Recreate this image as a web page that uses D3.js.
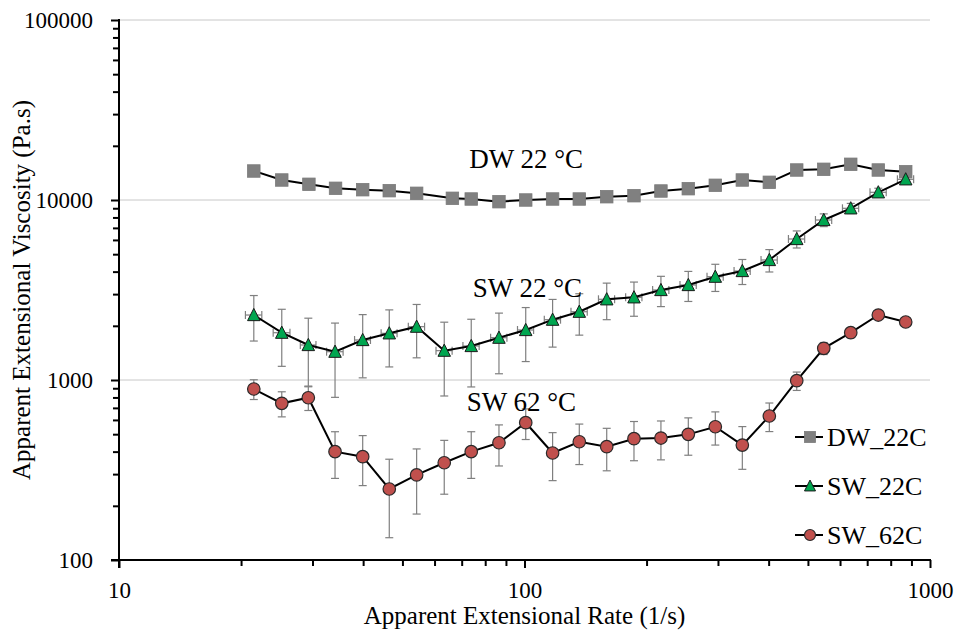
<!DOCTYPE html>
<html>
<head>
<meta charset="utf-8">
<script src="https://cdn.jsdelivr.net/npm/d3@7/dist/d3.min.js"></script>
<style>
  html, body { margin: 0; padding: 0; background: #fff; }
  svg text { font-family: "Liberation Serif", "DejaVu Serif", serif; fill: #000; }
</style>
</head>
<body>
<svg id="chart" width="956" height="632"></svg>
<script>
// apparent extensional rate (1/s)
const rateDW = [21.5, 25.2, 29.4, 34.2, 39.9, 46.4, 54.2, 66.4, 73.9, 86.5, 100.7, 117.3, 136.5,
  159.5, 186.2, 217.0, 253.5, 295.5, 344.5, 401.6, 469.2, 547.0, 637.6, 745.6, 871.2];
const rateSW = [21.5, 25.2, 29.3, 34.1, 39.9, 46.4, 54.2, 63.4, 73.9, 86.5, 100.7, 117.3, 136.5,
  159.5, 186.2, 217.0, 253.5, 295.5, 344.5, 401.6, 469.2, 547.0, 637.6, 745.6, 871.2];
const rateErrSW = [1.0, 1.2, 1.3, 1.6, 1.8, 2.1, 2.5, 2.9, 3.4, 4.0, 4.6, 5.4, 6.3,
  7.3, 8.6, 10.0, 11.7, 13.6, 15.8, 18.5, 21.6, 25.2, 29.3, 34.3, 40.1];

// apparent extensional viscosity (Pa.s)
const viscDW22 = [14490, 12915, 12225, 11614, 11408, 11265, 10894, 10219, 10128, 9786, 10000, 10128, 10128,
  10430, 10565, 11220, 11556, 12070, 12915, 12540, 14678, 14810, 15790, 14678, 14360];
const viscSW22 = [2296, 1831, 1565, 1436, 1668, 1817, 1978, 1455, 1545, 1718, 1896, 2163, 2395,
  2808, 2880, 3162, 3371, 3749, 4032, 4642, 6072, 7743, 8993, 11035, 13032];
const errSW22 = [650, 640, 640, 635, 640, 635, 650, 640, 630, 635, 630, 640, 620,
  645, 620, 605, 640, 645, 640, 660, 660, 630, 580, 590, 690];
const viscSW62 = [891, 742, 797, 400, 375, 248, 297, 347, 400, 448, 579, 393, 454,
  426, 472, 476, 499, 550, 435, 631, 991, 1500, 1831, 2296, 2100];
const errSW62 = [112, 118, 120, 116, 116, 115, 117, 115, 116, 115, 112, 117, 115,
  113, 116, 116, 117, 115, 116, 114, 116, 115, 115, 115, 115];

const xTicks = [10, 100, 1000];
const yTicks = [100, 1000, 10000, 100000];

const seriesNames = ['DW_22C', 'SW_22C', 'SW_62C'];
// text labels in the plot, anchored at data coordinates (rate, viscosity)
const notes = [
  { text: 'DW 22 °C', x: 73.1, y: 15000 },
  { text: 'SW 22 °C', x: 74.5, y: 2890 },
  { text: 'SW 62 °C', x: 72.0, y: 675 },
];

const width = 956, height = 632;
const margin = { top: 20, right: 26, bottom: 72, left: 119 };
const serif = '"Liberation Serif", "DejaVu Serif", serif';

const svg = d3.select('#chart').attr('font-family', serif);

const x = d3.scaleLog().domain([10, 1000]).range([margin.left, width - margin.right]);
const y = d3.scaleLog().domain([100, 100000]).range([height - margin.bottom, margin.top]);

const series = [
  { name: seriesNames[0], rate: rateDW, visc: viscDW22, err: null, xerr: null, shape: 'square', fill: '#808080', stroke: '#7a7a7a' },
  { name: seriesNames[1], rate: rateSW, visc: viscSW22, err: errSW22, xerr: rateErrSW, shape: 'triangle', fill: '#00a650', stroke: '#1a1a1a' },
  { name: seriesNames[2], rate: rateSW, visc: viscSW62, err: errSW62, xerr: null, shape: 'circle', fill: '#c0504d', stroke: '#2a2a2a' },
];

// gridlines
svg.append('g')
  .selectAll('line')
  .data(yTicks.slice(1))
  .join('line')
  .attr('x1', x(10))
  .attr('x2', x(1000))
  .attr('y1', (d) => y(d))
  .attr('y2', (d) => y(d))
  .attr('stroke', '#c8c8c8')
  .attr('stroke-width', 1);

// minor tick values
const minorX = [];
[10, 100].forEach((b) => { for (let k = 2; k <= 9; k++) minorX.push(b * k); });
const minorY = [];
[100, 1000, 10000].forEach((b) => { for (let k = 2; k <= 9; k++) minorY.push(b * k); });

const yAxis = d3.axisLeft(y).tickValues(yTicks).tickFormat(d3.format('d')).tickSize(8).tickPadding(18);
const yMinor = d3.axisLeft(y).tickValues(minorY).tickFormat('').tickSize(6);
const xAxis = d3.axisBottom(x).tickValues(xTicks).tickFormat(d3.format('d')).tickSize(8).tickPadding(14);
const xMinor = d3.axisBottom(x).tickValues(minorX).tickFormat('').tickSize(6);

function styleAxis(g) {
  g.attr('font-family', serif);
  g.select('.domain').remove();
  g.selectAll('line').attr('stroke', '#000').attr('stroke-width', 2);
  g.selectAll('text').attr('font-size', 23).attr('font-family', serif);
}

svg.append('g').attr('transform', `translate(${margin.left},0)`).call(yMinor).call(styleAxis);
svg.append('g').attr('transform', `translate(${margin.left},0)`).call(yAxis).call(styleAxis);
svg.append('g').attr('transform', `translate(0,${height - margin.bottom})`).call(xMinor).call(styleAxis);
svg.append('g').attr('transform', `translate(0,${height - margin.bottom})`).call(xAxis).call(styleAxis);

// axis lines
svg.append('line')
  .attr('x1', x(10)).attr('x2', x(10))
  .attr('y1', y(100000) - 1).attr('y2', y(100) + 8)
  .attr('stroke', '#000').attr('stroke-width', 2);
svg.append('line')
  .attr('x1', x(10) - 8).attr('x2', x(1000) + 1)
  .attr('y1', y(100)).attr('y2', y(100))
  .attr('stroke', '#000').attr('stroke-width', 2);

function drawMarker(g, shape, fill, stroke, size) {
  if (shape === 'square') {
    g.append('rect')
      .attr('x', -size / 2).attr('y', -size / 2)
      .attr('width', size).attr('height', size)
      .attr('fill', fill).attr('stroke', stroke).attr('stroke-width', 0.8);
  } else if (shape === 'triangle') {
    const h = size * 0.9;
    g.append('path')
      .attr('d', `M0,${-h / 2 - 1}L${size / 2},${h / 2}L${-size / 2},${h / 2}Z`)
      .attr('fill', fill).attr('stroke', stroke).attr('stroke-width', 1);
  } else {
    g.append('circle')
      .attr('r', size / 2)
      .attr('fill', fill).attr('stroke', stroke).attr('stroke-width', 1.2);
  }
}

const line = d3.line().x((d) => x(d[0])).y((d) => y(d[1]));

series.forEach((s) => {
  const pts = s.rate.map((r, i) => [r, s.visc[i], s.err ? s.err[i] : 0, s.xerr ? s.xerr[i] : 0]);
  const g = svg.append('g');

  if (s.err) {
    const eb = g.append('g').attr('stroke', '#7f7f7f').attr('stroke-width', 1.2);
    pts.forEach((p) => {
      const cx = x(p[0]);
      const top = y(p[1] + p[2]);
      const bot = y(Math.max(p[1] - p[2], 101));
      eb.append('line').attr('x1', cx).attr('x2', cx).attr('y1', top).attr('y2', bot);
      eb.append('line').attr('x1', cx - 4).attr('x2', cx + 4).attr('y1', top).attr('y2', top);
      eb.append('line').attr('x1', cx - 4).attr('x2', cx + 4).attr('y1', bot).attr('y2', bot);
    });
  }
  if (s.xerr) {
    const eb = g.append('g').attr('stroke', '#7f7f7f').attr('stroke-width', 1.2);
    pts.forEach((p) => {
      const cy = y(p[1]);
      const l = x(p[0] - p[3]);
      const r = x(p[0] + p[3]);
      eb.append('line').attr('x1', l).attr('x2', r).attr('y1', cy).attr('y2', cy);
      eb.append('line').attr('x1', l).attr('x2', l).attr('y1', cy - 4).attr('y2', cy + 4);
      eb.append('line').attr('x1', r).attr('x2', r).attr('y1', cy - 4).attr('y2', cy + 4);
    });
  }

  g.append('path')
    .datum(pts)
    .attr('d', line)
    .attr('fill', 'none')
    .attr('stroke', '#000')
    .attr('stroke-width', 2);

  g.append('g')
    .selectAll('g')
    .data(pts)
    .join('g')
    .attr('transform', (d) => `translate(${x(d[0])},${y(d[1])})`)
    .each(function () {
      drawMarker(d3.select(this), s.shape, s.fill, s.stroke, 12.5);
    });
});

// series notes
svg.append('g')
  .selectAll('text')
  .data(notes)
  .join('text')
  .attr('x', (d) => x(d.x))
  .attr('y', (d) => y(d.y))
  .attr('font-size', 27)
  .attr('font-family', serif)
  .text((d) => d.text);

// legend
const legend = svg.append('g').attr('transform', 'translate(795,437)');
series.forEach((s, i) => {
  const row = legend.append('g').attr('transform', `translate(0,${i * 49})`);
  row.append('line').attr('x1', 0).attr('x2', 28).attr('y1', 0).attr('y2', 0)
    .attr('stroke', '#000').attr('stroke-width', 2);
  const m = row.append('g').attr('transform', 'translate(15,0)');
  drawMarker(m, s.shape, s.fill, s.stroke, 11);
  row.append('text')
    .attr('x', 32)
    .attr('y', 9)
    .attr('font-size', 26)
    .attr('font-family', serif)
    .text(s.name);
});

// axis titles
svg.append('text')
  .attr('x', (x(10) + x(1000)) / 2)
  .attr('y', 624)
  .attr('text-anchor', 'middle')
  .attr('font-size', 25)
  .attr('font-family', serif)
  .text('Apparent Extensional Rate (1/s)');

svg.append('text')
  .attr('transform', `translate(30,${(y(100) + y(100000)) / 2}) rotate(-90)`)
  .attr('text-anchor', 'middle')
  .attr('font-size', 25)
  .attr('font-family', serif)
  .text('Apparent Extensional Viscosity (Pa.s)');
</script>
</body>
</html>
